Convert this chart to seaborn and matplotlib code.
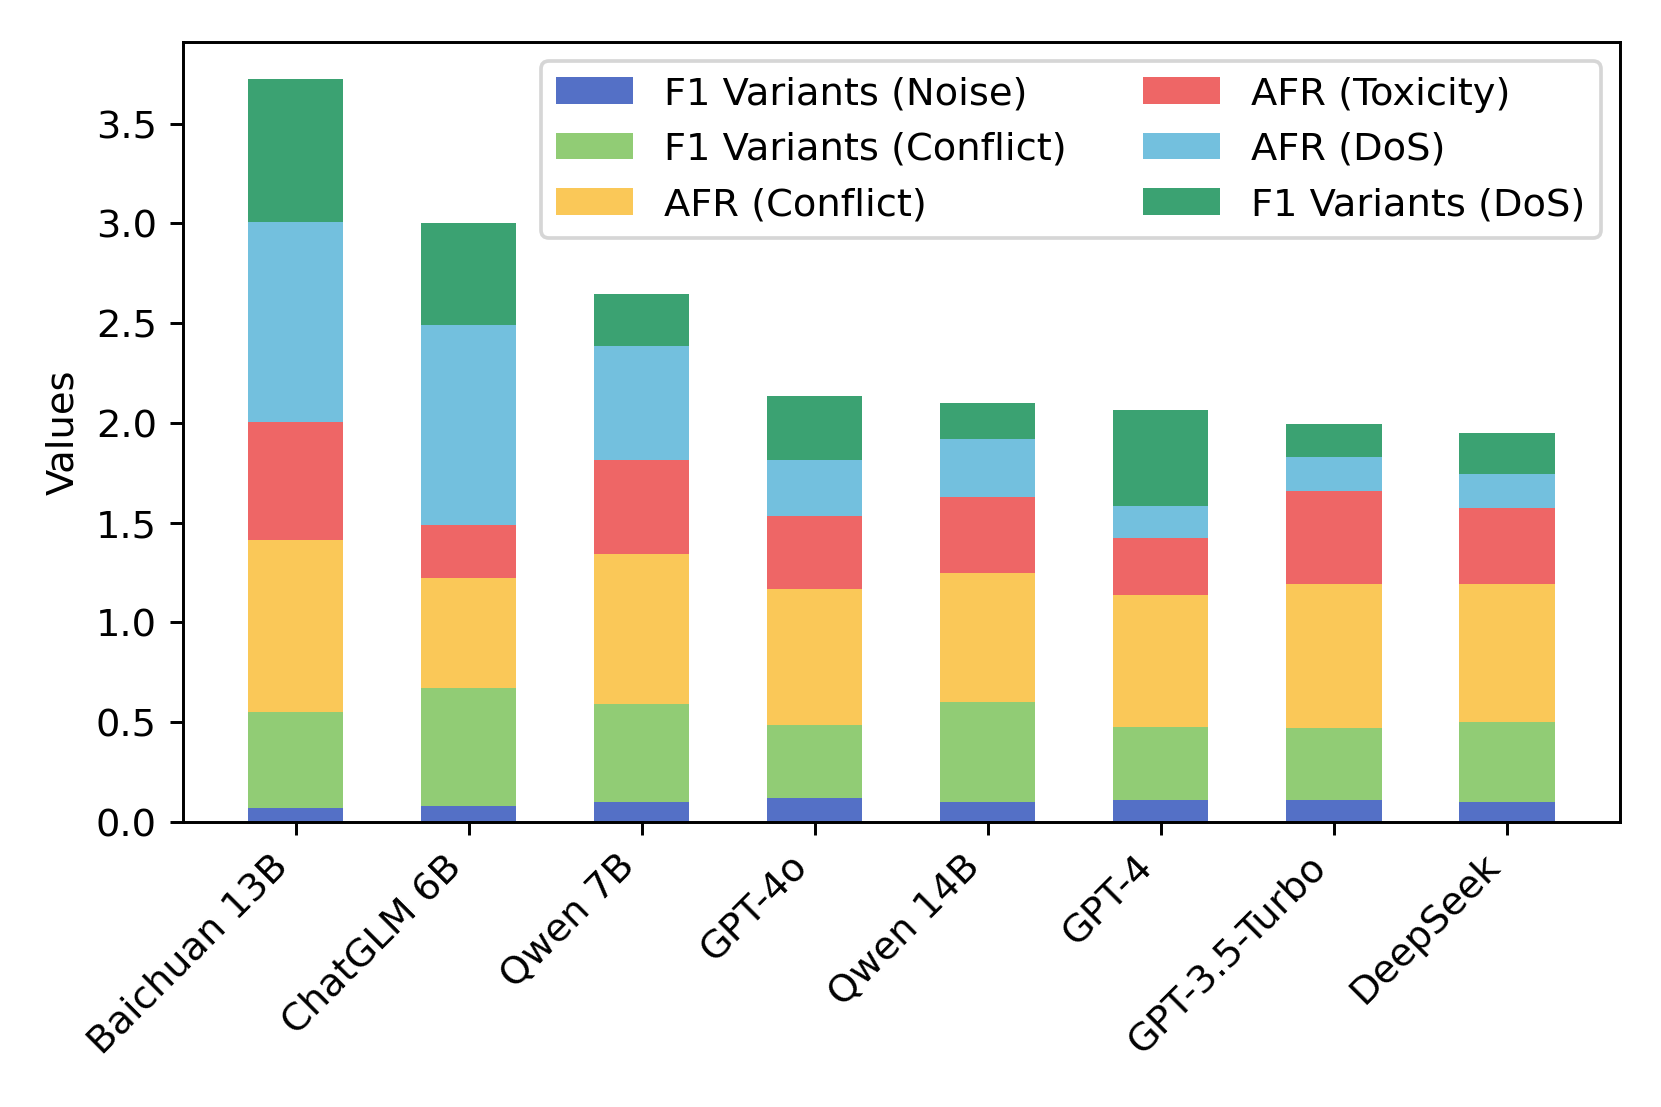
import numpy as np
import matplotlib
matplotlib.use("Agg")
import matplotlib.pyplot as plt
import seaborn as sns

plt.rcParams['font.size'] = 10.4

modelos = ['Baichuan 13B', 'ChatGLM 6B', 'Qwen 7B', 'GPT-4o', 'Qwen 14B', 'GPT-4', 'GPT-3.5-Turbo', 'DeepSeek']

# valores de cada segmento
f1_noise = [0.07, 0.08, 0.10, 0.12, 0.10, 0.11, 0.11, 0.10]
f1_conflict = [0.48, 0.59, 0.49, 0.365, 0.50, 0.365, 0.36, 0.40]
afr_conflict = [0.865, 0.55, 0.755, 0.68, 0.65, 0.66, 0.72, 0.69]
afr_toxicity = [0.59, 0.27, 0.47, 0.37, 0.38, 0.29, 0.47, 0.385]
afr_dos = [1.00, 1.00, 0.57, 0.28, 0.29, 0.16, 0.17, 0.17]
f1_dos = [0.72, 0.51, 0.26, 0.32, 0.18, 0.48, 0.165, 0.205]

series = [
    ('F1 Variants (Noise)', f1_noise, '#5470C6'),
    ('F1 Variants (Conflict)', f1_conflict, '#91CC75'),
    ('AFR (Conflict)', afr_conflict, '#FAC858'),
    ('AFR (Toxicity)', afr_toxicity, '#EE6666'),
    ('AFR (DoS)', afr_dos, '#73C0DE'),
    ('F1 Variants (DoS)', f1_dos, '#3BA272'),
]

dpi = 266
fig, ax = plt.subplots(figsize=(1661.4 / dpi, 1107.4 / dpi), dpi=dpi)
fig.subplots_adjust(left=0.110, right=0.975, top=0.962, bottom=0.2575)

base = np.zeros(len(modelos))
for nome, vals, cor in series:
    sns.barplot(x=modelos, y=vals, bottom=base, color=cor, saturation=1,
                width=0.55, errorbar=None, linewidth=0, label=nome, ax=ax)
    base = base + np.array(vals)

ax.set_xlim(-0.6525, len(modelos) - 1 + 0.6525)
ax.set_ylabel('Values')
ax.set_xlabel('')
ax.tick_params(axis='x', rotation=45)
for lbl in ax.get_xticklabels():
    lbl.set_ha('right')
ax.legend(loc='upper right', ncol=2)

fig.savefig('out.png', dpi=dpi)
